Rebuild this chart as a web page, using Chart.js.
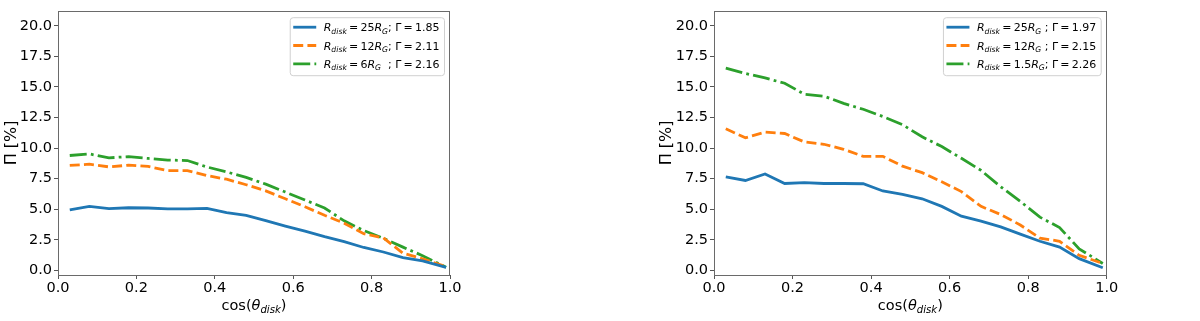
<!DOCTYPE html>
<html><head><meta charset="utf-8">
<script src="https://cdn.jsdelivr.net/npm/chart.js@4.4.0/dist/chart.umd.min.js"></script>
<style>
html,body{margin:0;padding:0;background:#fff;}
#wrap{position:relative;width:1200px;height:321px;overflow:hidden;background:#fff;}
.panel{position:absolute;top:0;width:600px;height:321px;}
</style></head><body>
<div id="wrap">
<div class="panel" style="left:0"><canvas id="c1" width="600" height="321"></canvas></div>
<div class="panel" style="left:600px"><canvas id="c2" width="600" height="321"></canvas></div>
</div>
<script>
// ---- data ----
const cosTheta = [0.03,0.08,0.13,0.18,0.23,0.28,0.33,0.38,0.43,0.48,0.53,0.58,0.63,0.68,0.73,0.78,0.83,0.88,0.93,0.99];
const xTickValues = [0,0.2,0.4,0.6,0.8,1.0];
const yTickValues = [0,2.5,5,7.5,10,12.5,15,17.5,20];
const xTitle = "cos(θ_{disk})";
const yTitle = "Π [%]";

const leftLabels = ["R_{disk} = 25R_{G}; Γ = 1.85", "R_{disk} = 12R_{G}; Γ = 2.11", "R_{disk} = 6R_{G}  ; Γ = 2.16"];
const leftBlue   = [4.95,5.23,5.05,5.12,5.10,5.02,5.02,5.07,4.72,4.50,4.06,3.62,3.20,2.75,2.35,1.87,1.50,1.05,0.78,0.25];
const leftOrange = [8.58,8.68,8.46,8.60,8.50,8.15,8.16,7.75,7.45,7.00,6.50,5.85,5.20,4.50,3.85,3.00,2.65,1.40,0.95,0.30];
const leftGreen  = [9.39,9.52,9.20,9.30,9.15,9.02,8.98,8.45,8.05,7.60,7.05,6.40,5.75,5.10,4.05,3.25,2.62,1.90,1.20,0.25];

const rightLabels = ["R_{disk} = 25R_{G} ; Γ = 1.97", "R_{disk} = 12R_{G} ; Γ = 2.15", "R_{disk} = 1.5R_{G}; Γ = 2.26"];
const rightBlue   = [7.64,7.35,7.88,7.10,7.18,7.10,7.10,7.08,6.49,6.22,5.85,5.23,4.43,4.03,3.55,2.96,2.38,1.90,0.96,0.21];
const rightOrange = [11.57,10.84,11.30,11.19,10.50,10.31,9.90,9.32,9.32,8.52,7.99,7.24,6.44,5.23,4.57,3.71,2.64,2.38,1.23,0.56];
const rightGreen  = [16.53,16.10,15.73,15.30,14.40,14.24,13.65,13.17,12.58,11.91,10.92,10.12,9.16,8.17,6.84,5.64,4.35,3.50,1.76,0.56];

// ---- styles ----
const FAM = "'DejaVu Sans', sans-serif";
const COLORS = ['#1f77b4','#ff7f0e','#2ca02c'];
const LW = 2.8;
const DASHES = [[], [10,4.2], [17,4.2,2.8,4.2]];

function parseRich(str){
  const runs=[]; let i=0;
  while(i<str.length){
    if(str[i]==='_' && str[i+1]==='{'){
      const j=str.indexOf('}',i);
      runs.push({t:str.slice(i+2,j),sub:true,it:true}); i=j+1; continue;
    }
    const ch=str[i];
    if(ch===' ' && (str[i+1]==='=' || str[i-1]==='=')){ runs.push({t:' ',thin:true}); i++; continue; }
    const it=/[Rθ]/.test(ch);
    const last=runs[runs.length-1];
    if(last && !last.sub && !last.thin && last.it===it) last.t+=ch; else runs.push({t:ch,sub:false,it:it});
    i++;
  }
  return runs;
}
function fontFor(r,size){ return (r.it?'italic ':'')+(r.sub?size*0.7:size)+'px '+FAM; }
function runW(ctx,r,size){ if(r.thin) return size*0.2; ctx.font=fontFor(r,size); return ctx.measureText(r.t).width; }
function richWidth(ctx,runs,size){ let w=0; for(const r of runs) w+=runW(ctx,r,size); return w; }
function drawRich(ctx,runs,x,y,size){
  ctx.textAlign='left'; ctx.textBaseline='alphabetic';
  for(const r of runs){
    const w=runW(ctx,r,size);
    if(!r.thin){ ctx.font=fontFor(r,size); ctx.fillText(r.t,x,r.sub?y+size*0.24:y); }
    x+=w;
  }
}

const decoPlugin = {
  id:'deco',
  afterDraw(chart, args, opts){
    const ctx=chart.ctx, a=chart.chartArea;
    ctx.save();
    // frame
    ctx.strokeStyle='#6a6a6a'; ctx.lineWidth=1;
    ctx.strokeRect(Math.round(a.left)+0.5, Math.round(a.top)+0.5, Math.round(a.right-a.left)-1, Math.round(a.bottom-a.top));
    // x title
    ctx.fillStyle='#000';
    const xr=parseRich(xTitle); const xs=14.5;
    const xw=richWidth(ctx,xr,xs);
    drawRich(ctx,xr,(a.left+a.right)/2-xw/2,310,xs);
    // y title
    ctx.save();
    ctx.translate(opts.yTitleX,(a.top+a.bottom)/2);
    ctx.rotate(-Math.PI/2);
    ctx.font='16px '+FAM; ctx.textAlign='center'; ctx.textBaseline='middle';
    ctx.fillText(yTitle,0,0);
    ctx.restore();
    // legend
    const ls=11;
    const labs=opts.labels.map(parseRich);
    const tw=Math.max(...labs.map(r=>richWidth(ctx,r,ls)));
    const handle=23, pad=3.5, gap=7.5;
    const bw=pad+handle+gap+tw+pad+1;
    const bx=a.right-6-bw, by=a.top+6.5, bh=58;
    ctx.fillStyle='rgba(255,255,255,0.85)'; ctx.strokeStyle='#d0d0d0'; ctx.lineWidth=1;
    ctx.beginPath(); ctx.roundRect(bx+0.5,by+0.5,bw,bh,3); ctx.fill(); ctx.stroke();
    for(let k=0;k<labs.length;k++){
      const ry=by+10+k*18.3;
      ctx.strokeStyle=COLORS[k]; ctx.lineWidth=LW; ctx.setLineDash(DASHES[k]);
      ctx.beginPath(); ctx.moveTo(bx+pad,ry); ctx.lineTo(bx+pad+handle,ry); ctx.stroke();
      ctx.setLineDash([]);
      ctx.fillStyle='#000';
      drawRich(ctx,labs[k],bx+pad+handle+gap,ry+4,ls);
    }
    ctx.restore();
  }
};

function makeChart(id, labels, series, yWidth, rightPad, yTitleX){
  const datasets = series.map((vals,k)=>({
    label: labels[k],
    data: cosTheta.map((x,i)=>({x:x,y:vals[i]})),
    borderColor: COLORS[k], borderWidth: LW, borderDash: DASHES[k],
    pointRadius: 0, tension: 0, fill: false, borderCapStyle:'butt'
  }));
  const tickFont = {family: FAM, size: 14.5};
  return new Chart(document.getElementById(id), {
    type:'line',
    data:{datasets},
    options:{
      responsive:false, animation:false, devicePixelRatio:1,
      layout:{padding:{left:0,right:rightPad,top:5,bottom:0}},
      plugins:{legend:{display:false}, tooltip:{enabled:false}, deco:{labels:labels, yTitleX:yTitleX}},
      scales:{
        x:{type:'linear', min:0, max:1,
          afterBuildTicks:s=>{s.ticks=xTickValues.map(v=>({value:v}));},
          afterFit:s=>{s.height=46;},
          ticks:{callback:v=>Number(v).toFixed(1), font:tickFont, color:'#000', padding:1, maxRotation:0, autoSkip:false},
          grid:{display:true, drawOnChartArea:false, drawTicks:true, tickLength:4, color:'#555'},
          border:{display:false}, title:{display:false}},
        y:{type:'linear', min:-0.38, max:21.23,
          afterBuildTicks:s=>{s.ticks=yTickValues.map(v=>({value:v}));},
          afterFit:s=>{s.width=yWidth;},
          ticks:{callback:v=>Number(v).toFixed(1), font:tickFont, color:'#000', padding:2, autoSkip:false},
          grid:{display:true, drawOnChartArea:false, drawTicks:true, tickLength:4, color:'#555'},
          border:{display:false}, title:{display:false}}
      }
    },
    plugins:[decoPlugin]
  });
}

makeChart('c1', leftLabels, [leftBlue,leftOrange,leftGreen], 58, 150, 11.5);
makeChart('c2', rightLabels, [rightBlue,rightOrange,rightGreen], 114, 93.3, 67);
</script>
</body></html>
